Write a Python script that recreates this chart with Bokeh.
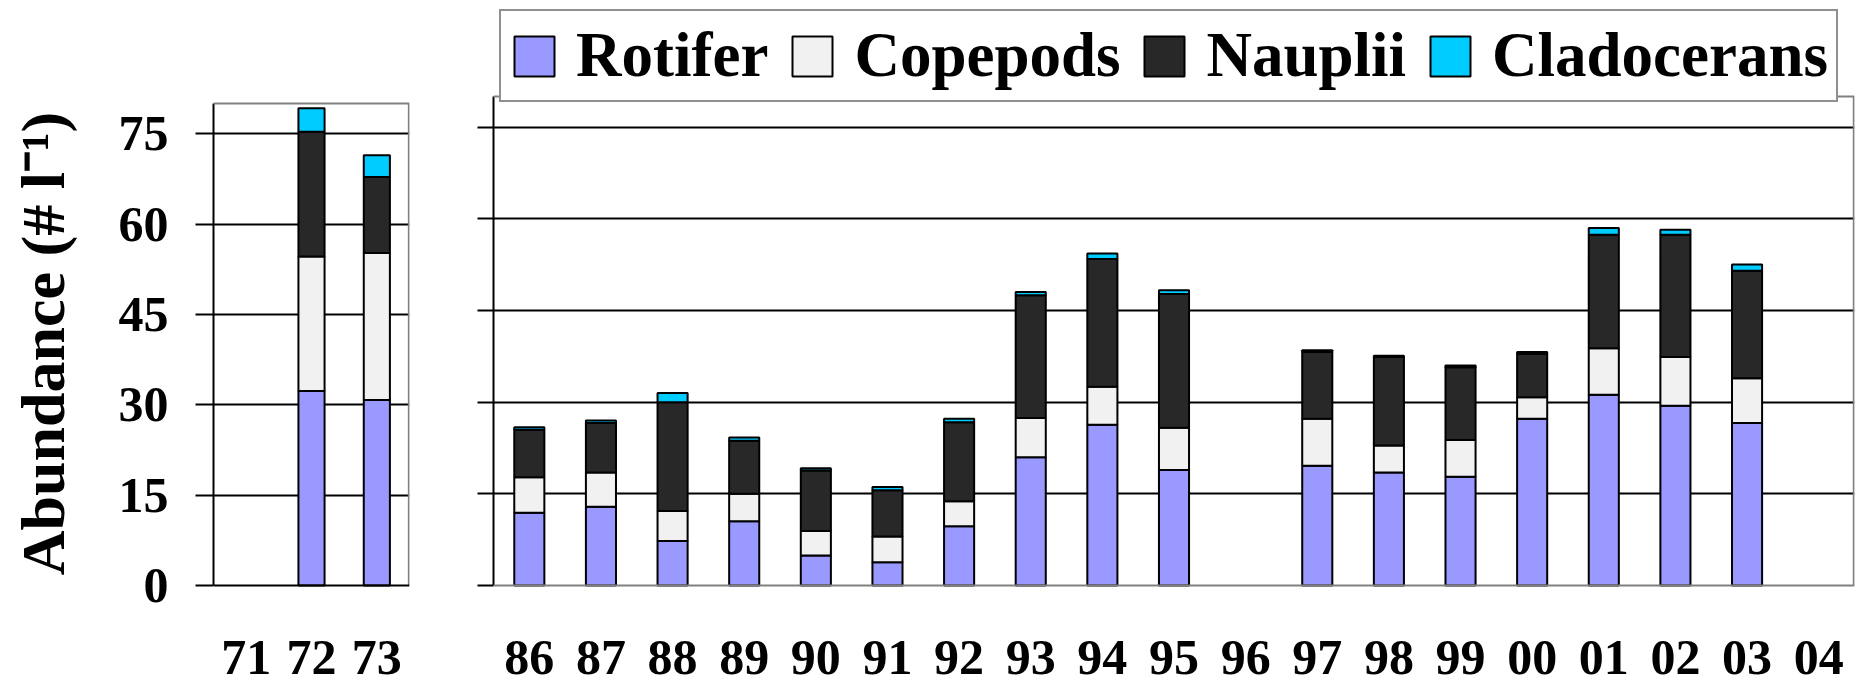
import numpy as np
from bokeh.plotting import figure
from bokeh.models import (ColumnDataSource, FactorRange, Range1d, FixedTicker,
                          Legend, LegendItem, Span)
from bokeh.core.properties import value
from bokeh.layouts import row
from bokeh.embed import file_html
from bokeh.resources import INLINE

nan = float("nan")

# ---- data (abundance, individuals per litre) ----
years_early = ["71", "72", "73"]
rotifer_early = [nan, 32.3, 30.8]
copepods_early = [nan, 22.3, 24.4]
nauplii_early = [nan, 20.7, 12.6]
cladocerans_early = [nan, 3.9, 3.6]

years_late = ["86", "87", "88", "89", "90", "91", "92", "93", "94", "95",
              "96", "97", "98", "99", "00", "01", "02", "03", "04"]
rotifer_late = [11.9, 12.9, 7.3, 10.5, 4.9, 3.8, 9.7, 21.0, 26.3, 18.9,
                nan, 19.6, 18.5, 17.8, 27.3, 31.2, 29.4, 26.6, nan]
copepods_late = [5.8, 5.6, 4.9, 4.5, 4.0, 4.2, 4.1, 6.4, 6.2, 6.9,
                 nan, 7.7, 4.4, 6.0, 3.5, 7.6, 8.0, 7.3, nan]
nauplii_late = [7.8, 8.1, 17.8, 8.7, 9.9, 7.6, 12.9, 20.1, 20.9, 21.9,
                nan, 10.9, 14.5, 11.9, 7.1, 18.6, 20.0, 17.6, nan]
cladocerans_late = [0.4, 0.4, 1.5, 0.5, 0.4, 0.5, 0.6, 0.5, 0.9, 0.6,
                    nan, 0.3, 0.2, 0.3, 0.3, 1.1, 0.8, 1.0, nan]

series_names = ["Rotifer", "Copepods", "Nauplii", "Cladocerans"]
y_ticks = [0, 15, 30, 45, 60, 75]
grid_ticks = [15, 30, 45, 60, 75]
y_max = 80

# ---- styling / layout constants ----
colors = ["#9999FF", "#F1F1F1", "#282828", "#00CCFF"]
FONT = "Liberation Serif"
GRAY = "#808080"
keys = ["rotifer", "copepods", "nauplii", "cladocerans"]
H = 686            # canvas height
ZERO_PX = 585      # screen row of value 0 (from top)
LABEL_PX = 657     # anchor row of the year labels
LEFT_BOX_PX = 482  # height of left box (0..80)
RIGHT_BOX_PX = 489 # height of right box (0..80)

src_early = ColumnDataSource(dict(year=years_early,
                                  rotifer=np.array(rotifer_early),
                                  copepods=np.array(copepods_early),
                                  nauplii=np.array(nauplii_early),
                                  cladocerans=np.array(cladocerans_early)))
src_late = ColumnDataSource(dict(year=years_late,
                                 rotifer=np.array(rotifer_late),
                                 copepods=np.array(copepods_late),
                                 nauplii=np.array(nauplii_late),
                                 cladocerans=np.array(cladocerans_late)))


def make_panel(years, src, width, border_left, border_right, box_px, bar_width,
               bottom_color):
    scale = box_px / y_max  # px per unit
    y_range = Range1d(-(H - ZERO_PX) / scale, ZERO_PX / scale)
    p = figure(width=width, height=H, x_range=FactorRange(*years, range_padding=0),
               y_range=y_range, output_backend="svg", toolbar_location=None,
               min_border_left=border_left, min_border_right=border_right,
               min_border_top=0, min_border_bottom=0)
    p.background_fill_color = "white"
    p.border_fill_color = "white"
    p.outline_line_color = None
    p.xaxis.visible = False
    p.xgrid.visible = False
    p.ygrid.ticker = FixedTicker(ticks=grid_ticks)
    p.ygrid.grid_line_color = "black"
    p.ygrid.grid_line_width = 2
    ax = p.yaxis[0]
    ax.ticker = FixedTicker(ticks=y_ticks)
    ax.bounds = (0, y_max)
    ax.axis_line_color = "black"
    ax.axis_line_width = 2
    ax.major_tick_line_color = "black"
    ax.major_tick_line_width = 2
    ax.major_tick_in = 0
    ax.minor_tick_line_color = None
    # box: bottom, top and right edges
    p.add_layout(Span(location=0, dimension="width", line_color=bottom_color, line_width=2))
    p.add_layout(Span(location=y_max, dimension="width", line_color=GRAY, line_width=2))
    edge = len(years) - 0.01
    p.segment(x0=[edge], y0=[0], x1=[edge], y1=[y_max], line_color=GRAY, line_width=2)
    rs = p.vbar_stack(keys, x="year", width=bar_width, color=colors, line_color="black",
                      line_width=2, source=src)
    # year labels under the bars
    p.text(x="year", y=-(LABEL_PX - ZERO_PX) / scale, text="year", source=src,
           text_align="center", text_baseline="alphabetic",
           text_font=value(FONT), text_font_style="bold", text_font_size="50px",
           text_color="black")
    return p, rs


# ---- left panel (1971-73) ----
p1, _ = make_panel(years_early, src_early, 448, 213, 39, LEFT_BOX_PX, 0.4, "black")
ax1 = p1.yaxis[0]
ax1.major_tick_out = 18
ax1.major_label_standoff = 27
ax1.major_label_text_font = FONT
ax1.major_label_text_font_style = "bold"
ax1.major_label_text_font_size = "50px"
ax1.major_label_text_color = "black"
ax1.axis_label = "Abundance (# l\u207b\u00b9)"
ax1.axis_label_text_font = FONT
ax1.axis_label_text_font_style = "bold"
ax1.axis_label_text_font_size = "62px"
ax1.axis_label_text_color = "black"
ax1.axis_label_standoff = 39

# ---- right panel (1986-2004) ----
p2, rs = make_panel(years_late, src_late, 1408, 45, 2, RIGHT_BOX_PX, 0.42, GRAY)
ax2 = p2.yaxis[0]
ax2.major_tick_out = 16
ax2.major_label_standoff = 0
ax2.major_label_overrides = {t: "" for t in y_ticks}

legend = Legend(items=[LegendItem(label=n, renderers=[r]) for n, r in zip(series_names, rs)],
                orientation="horizontal", location=(6, H - 102),
                label_text_font=FONT, label_text_font_style="bold", label_text_font_size="63px",
                label_text_color="black",
                glyph_width=50, glyph_height=50, label_standoff=17, spacing=19,
                padding=8, margin=0,
                border_line_color="#222222", border_line_width=2,
                background_fill_color="white", background_fill_alpha=1.0)
p2.add_layout(legend, "center")

layout = row(p1, p2)
open("out.html", "w").write(file_html(layout, INLINE))
